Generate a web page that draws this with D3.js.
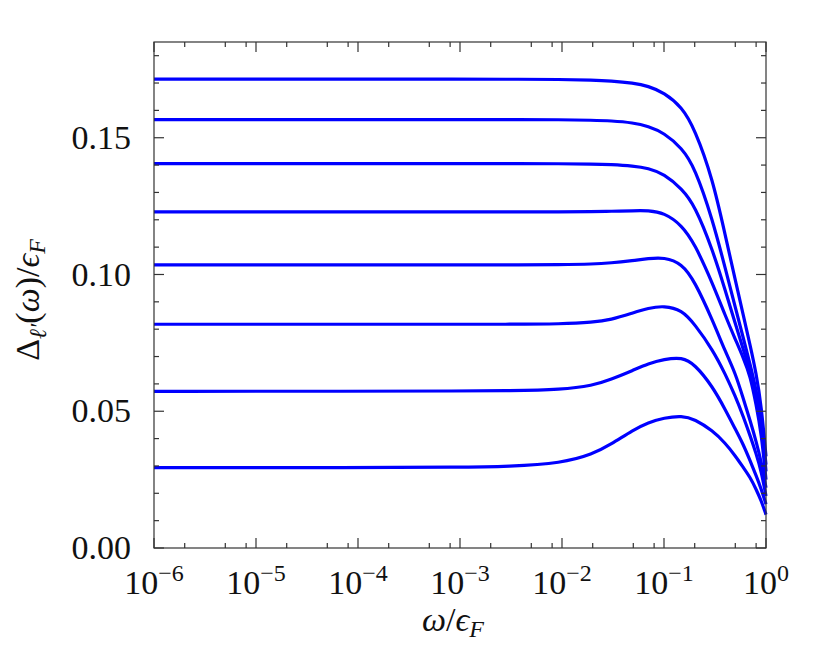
<!DOCTYPE html>
<html>
<head>
<meta charset="utf-8">
<script src="https://cdn.jsdelivr.net/npm/d3@7/dist/d3.min.js"></script>
<style>
  body { margin: 0; background: #fff; }
  text { font-family: "Liberation Serif", "DejaVu Serif", serif; fill: #111; }
</style>
</head>
<body>
<svg></svg>
<script>
const width = 831;
const height = 646;
const margin = {top: 42, right: 65, bottom: 98, left: 154};

// omega / eps_F sample points
const omega = [1e-6, 1e-4, 1e-3, 3e-3, 0.01, 0.02, 0.03, 0.05, 0.07, 0.1,
               0.15, 0.2, 0.3, 0.4, 0.5, 0.6, 0.7, 0.8, 0.9, 1.0];

// gap curves Delta_l'(omega)/eps_F, top to bottom
const gap1 = [0.1714, 0.1714, 0.1714, 0.1714, 0.1713, 0.1711, 0.1708, 0.1700, 0.1689, 0.1665,
              0.1612, 0.1532, 0.1350, 0.1140, 0.0980, 0.0850, 0.0740, 0.0640, 0.0520, 0.0335];
const gap2 = [0.1566, 0.1566, 0.1566, 0.1566, 0.1566, 0.1564, 0.1562, 0.1555, 0.1542, 0.1518,
              0.1462, 0.1392, 0.1200, 0.1020, 0.0880, 0.0767, 0.0670, 0.0580, 0.0470, 0.0305];
const gap3 = [0.1405, 0.1405, 0.1405, 0.1405, 0.1405, 0.1404, 0.1402, 0.1397, 0.1389, 0.1368,
              0.1313, 0.1253, 0.1090, 0.0940, 0.0820, 0.0725, 0.0645, 0.0570, 0.0475, 0.0280];
const gap4 = [0.1229, 0.1229, 0.1229, 0.1229, 0.1229, 0.1230, 0.1231, 0.1233, 0.1234, 0.1226,
              0.1180, 0.1112, 0.0967, 0.0848, 0.0763, 0.0695, 0.0630, 0.0525, 0.0420, 0.0250];
const gap5 = [0.1035, 0.1035, 0.1035, 0.1035, 0.1036, 0.1038, 0.1042, 0.1051, 0.1058, 0.1063,
              0.1040, 0.0975, 0.0832, 0.0717, 0.0640, 0.0545, 0.0465, 0.0390, 0.0315, 0.0220];
const gap6 = [0.0818, 0.0818, 0.0818, 0.0818, 0.0819, 0.0825, 0.0834, 0.0860, 0.0877, 0.0886,
              0.0870, 0.0818, 0.0725, 0.0635, 0.0555, 0.0480, 0.0410, 0.0345, 0.0280, 0.0190];
const gap7 = [0.0573, 0.0573, 0.0574, 0.0575, 0.0579, 0.0594, 0.0616, 0.0650, 0.0674, 0.0690,
              0.0698, 0.0672, 0.0590, 0.0505, 0.0435, 0.0378, 0.0318, 0.0265, 0.0215, 0.0160];
const gap8 = [0.0294, 0.0294, 0.0295, 0.0298, 0.0310, 0.0343, 0.0378, 0.0432, 0.0459, 0.0476,
              0.0484, 0.0471, 0.0429, 0.0383, 0.0337, 0.0294, 0.0258, 0.0215, 0.0172, 0.0122];
const series = [gap1, gap2, gap3, gap4, gap5, gap6, gap7, gap8];

const xDomain = [1e-6, 1];
const yDomain = [0, 0.185];
const yMajor = [0, 0.05, 0.1, 0.15];
const yMinor = [0.01, 0.02, 0.03, 0.04, 0.06, 0.07, 0.08, 0.09, 0.11, 0.12, 0.13, 0.14, 0.16, 0.17, 0.18];
const xExponents = [-6, -5, -4, -3, -2, -1, 0];
const xMinorMantissa = [2, 5, 8];

const svg = d3.select('svg')
    .attr('width', width).attr('height', height);

const x = d3.scaleLog().domain(xDomain).range([margin.left, width - margin.right]);
const y = d3.scaleLinear().domain(yDomain).range([height - margin.bottom, margin.top]);

const xMajor = xExponents.map(e => Math.pow(10, e));
const xMinor = [];
xExponents.slice(0, -1).forEach(e => {
    xMinorMantissa.forEach(m => xMinor.push(m * Math.pow(10, e)));
});

drawCurves();
drawFrame();
drawLabels();

function drawCurves() {
    const line = d3.line()
        .x(d => x(d[0]))
        .y(d => y(d[1]))
        .curve(d3.curveBasis);

    svg.append('g')
        .selectAll('path')
        .data(series)
        .enter().append('path')
        .attr('d', s => line(s.map((v, i) => [omega[i], v])))
        .style('fill', 'none')
        .style('stroke', '#0000ff')
        .style('stroke-width', '3.2px')
        .style('stroke-linejoin', 'round');
}

function drawFrame() {
    const x0 = x.range()[0], x1 = x.range()[1];
    const y0 = y.range()[0], y1 = y.range()[1];
    const g = svg.append('g')
        .style('stroke', '#333')
        .style('stroke-width', '1.2px');

    g.append('rect')
        .attr('x', x0).attr('y', y1)
        .attr('width', x1 - x0).attr('height', y0 - y1)
        .style('fill', 'none');

    const ticks = [
        ...xMajor.map(v => ({v, len: 10})),
        ...xMinor.map(v => ({v, len: 5}))
    ];
    ticks.forEach(t => {
        g.append('line').attr('x1', x(t.v)).attr('x2', x(t.v)).attr('y1', y0).attr('y2', y0 - t.len);
        g.append('line').attr('x1', x(t.v)).attr('x2', x(t.v)).attr('y1', y1).attr('y2', y1 + t.len);
    });

    const yticks = [
        ...yMajor.map(v => ({v, len: 10})),
        ...yMinor.map(v => ({v, len: 5}))
    ];
    yticks.forEach(t => {
        g.append('line').attr('y1', y(t.v)).attr('y2', y(t.v)).attr('x1', x0).attr('x2', x0 + t.len);
        g.append('line').attr('y1', y(t.v)).attr('y2', y(t.v)).attr('x1', x1).attr('x2', x1 - t.len);
    });
}

function drawLabels() {
    svg.append('g')
        .selectAll('text')
        .data(yMajor)
        .enter().append('text')
        .attr('x', margin.left - 23)
        .attr('y', d => y(d))
        .attr('dy', '0.33em')
        .attr('text-anchor', 'end')
        .style('font-size', '34px')
        .text(d => d3.format('.2f')(d));

    const xl = svg.append('g')
        .selectAll('text')
        .data(xExponents)
        .enter().append('text')
        .attr('x', e => x(Math.pow(10, e)))
        .attr('y', 594)
        .attr('text-anchor', 'middle')
        .style('font-size', '34px');
    xl.append('tspan').text('10');
    xl.append('tspan')
        .attr('dy', -13)
        .style('font-size', '24px')
        .text(e => e < 0 ? '\u2212' + (-e) : String(e));

    const xt = svg.append('text')
        .attr('x', 453)
        .attr('y', 631)
        .attr('text-anchor', 'middle')
        .style('font-size', '34px');
    xt.append('tspan').style('font-style', 'italic').text('ω');
    xt.append('tspan').text('/');
    xt.append('tspan').style('font-style', 'italic').text('ϵ');
    xt.append('tspan').attr('dy', 6).style('font-size', '24px').style('font-style', 'italic').text('F');

    const yt = svg.append('text')
        .attr('transform', 'translate(39,300) rotate(-90)')
        .attr('text-anchor', 'middle')
        .style('font-size', '34px');
    yt.append('tspan').text('Δ');
    yt.append('tspan').attr('dy', 7).style('font-size', '24px').style('font-style', 'italic').text('ℓ′');
    yt.append('tspan').attr('dy', -7).text('(');
    yt.append('tspan').style('font-style', 'italic').text('ω');
    yt.append('tspan').text(')/');
    yt.append('tspan').style('font-style', 'italic').text('ϵ');
    yt.append('tspan').attr('dy', 6).style('font-size', '24px').style('font-style', 'italic').text('F');
}
</script>
</body>
</html>
